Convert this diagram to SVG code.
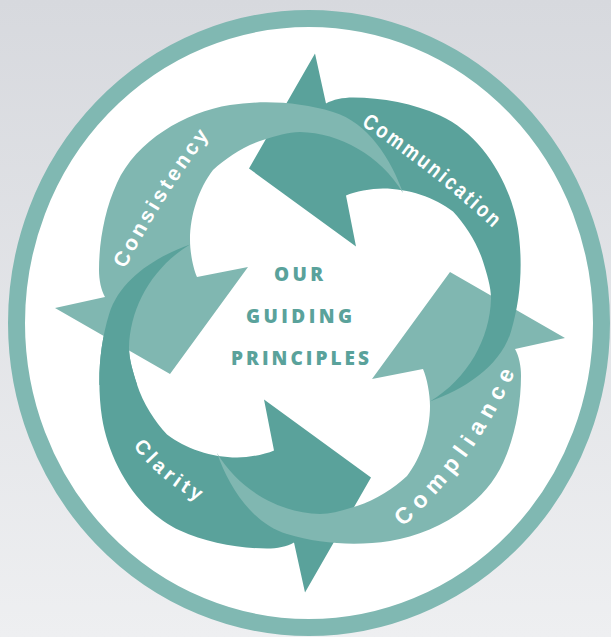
<svg xmlns="http://www.w3.org/2000/svg" xmlns:xlink="http://www.w3.org/1999/xlink" width="611" height="637" viewBox="0 0 611 637">
  <defs>
    <linearGradient id="bg" x1="0" y1="0" x2="0" y2="1">
      <stop offset="0" stop-color="#d7d9de"/>
      <stop offset="1" stop-color="#eeeff1"/>
    </linearGradient>
    <!-- one curved arrow: tapered band ending in a triangular head -->
    <path id="arrowShape" d="M 403,193
      C 391,159 368,122.5 333,112
      C 300,102 264,100 230,105
      C 185,112 136,141 117,183
      C 105,209 99,241 99,270
      C 99,280 101,290 105,297
      L 55,308 L 170,374 L 248,267 L 197,277
      C 193,268 190,252 190,240
      C 190,215 199,188 213,170
      C 226,158 244,146 263,140
      C 276,136 288,132 300,132
      C 340,133 380,155 403,193 Z"/>
    <clipPath id="tailClip">
      <rect x="85" y="225" width="120" height="160"/>
    </clipPath>
    <!-- label baselines -->
    <path id="pathConsistency" d="M 125,269 Q 161,199 211,133"/>
    <path id="pathCommunication" d="M 361,125 Q 433,172 497,232"/>
    <path id="pathCompliance" d="M 403,527 Q 477,460 518,366"/>
    <path id="pathClarity" d="M 133,446 Q 160,482 202,503"/>
    <style>
      .light { fill: #80b7b1; }
      .dark { fill: #5aa29b; }
      .lbl { fill: #ffffff; font-family: "Liberation Sans", Arial, sans-serif; font-weight: bold; }
      .title { fill: #5aa29b; font-family: "Open Sans", "Liberation Sans", sans-serif; font-weight: 800; font-size: 19px; }
    </style>
  </defs>

  <rect width="611" height="637" fill="url(#bg)"/>

  <!-- outer ring -->
  <g id="frame">
    <ellipse cx="309" cy="323" rx="292.5" ry="304.5" fill="#ffffff" stroke="#80b8b2" stroke-width="17"/>
  </g>

  <!-- the four arrows; each tail overlaps the next head -->
  <g id="arrow-clarity">
    <use href="#arrowShape" class="dark" transform="rotate(180 310 323) rotate(90 312.25 310.75)"/>
    <text class="lbl" font-size="20"><textPath href="#pathClarity" textLength="86" lengthAdjust="spacing">Clarity</textPath></text>
  </g>
  <g id="arrow-compliance">
    <use href="#arrowShape" class="light" transform="rotate(180 310 323)"/>
    <text class="lbl" font-size="23"><textPath href="#pathCompliance" textLength="192" lengthAdjust="spacing">Compliance</textPath></text>
  </g>
  <g id="arrow-communication">
    <use href="#arrowShape" class="dark" transform="rotate(90 312.25 310.75)"/>
    <text class="lbl" font-size="22" letter-spacing="3"><textPath href="#pathCommunication" textLength="170" lengthAdjust="spacingAndGlyphs">Communication</textPath></text>
  </g>
  <g id="arrow-consistency">
    <use href="#arrowShape" class="light"/>
    <text class="lbl" font-size="21"><textPath href="#pathConsistency" textLength="158" lengthAdjust="spacing">Consistency</textPath></text>
  </g>
  <!-- Clarity tail laid over the Consistency head -->
  <g id="clarity-tail" clip-path="url(#tailClip)">
    <use href="#arrowShape" class="dark" transform="rotate(180 310 323) rotate(90 312.25 310.75)"/>
  </g>

  <g id="title">
    <text class="title" x="274" y="281" textLength="49" lengthAdjust="spacing">OUR</text>
    <text class="title" x="246" y="323" textLength="106" lengthAdjust="spacing">GUIDING</text>
    <text class="title" x="231" y="365" textLength="138" lengthAdjust="spacing">PRINCIPLES</text>
  </g>
</svg>
